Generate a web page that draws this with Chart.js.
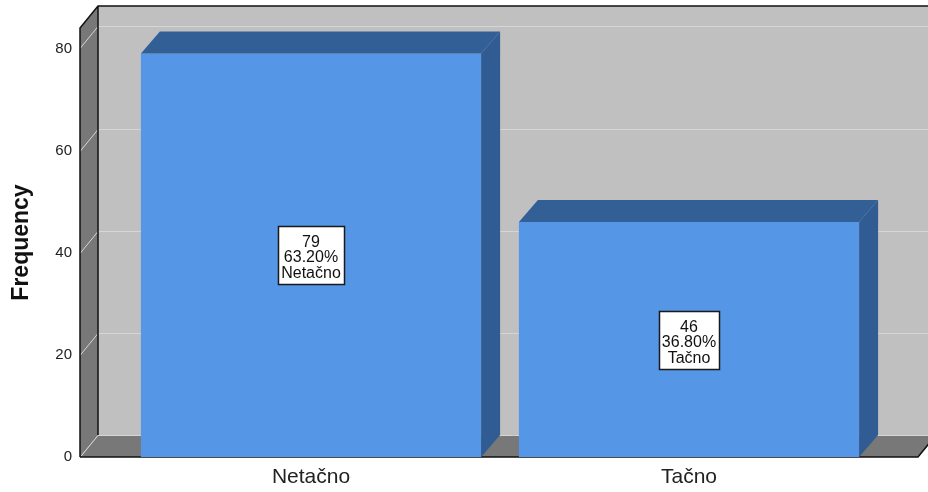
<!DOCTYPE html>
<html>
<head>
<meta charset="utf-8">
<title>Frequency</title>
<script src="https://cdn.jsdelivr.net/npm/chart.js@4/dist/chart.umd.min.js"></script>
<style>
  html, body { margin: 0; padding: 0; background: #ffffff; }
  #wrap { position: relative; width: 928px; height: 492px; }
</style>
</head>
<body>
<div id="wrap"><canvas id="chart"></canvas></div>
<script>
// Answer categories and how many respondents chose each
const categories = ['Netačno', 'Tačno'];
const frequencies = [79, 46];
// Value axis ticks
const yTicks = [0, 20, 40, 60, 80];
const yMax = 84;

const FONT = "Arial, 'Liberation Sans', sans-serif";
const total = frequencies.reduce((a, b) => a + b, 0);

// Oblique depth of the room (walls/floor) and of the bars
const ROOM_DX = 18, ROOM_DY = 22;
const BAR_DX = 19, BAR_DY = 22;

// Back wall, left wall, floor and gridlines behind the bars; 3D bar faces and labels on top
const roomPlugin = {
  id: 'room3d',
  beforeDatasetsDraw(chart) {
    const { ctx, chartArea: ca } = chart;
    const y = chart.scales.y;
    const L = ca.left - 42, R = ca.right + 40, T = ca.top, B = ca.bottom;
    ctx.save();
    // back wall
    ctx.fillStyle = '#c0c0c0';
    ctx.fillRect(L + ROOM_DX, T - ROOM_DY, (R - L) + 20, B - T);
    // left wall
    ctx.fillStyle = '#787878';
    ctx.beginPath();
    ctx.moveTo(L, B); ctx.lineTo(L, T);
    ctx.lineTo(L + ROOM_DX, T - ROOM_DY); ctx.lineTo(L + ROOM_DX, B - ROOM_DY);
    ctx.closePath(); ctx.fill();
    // floor
    ctx.beginPath();
    ctx.moveTo(L, B); ctx.lineTo(R, B);
    ctx.lineTo(R + ROOM_DX, B - ROOM_DY); ctx.lineTo(L + ROOM_DX, B - ROOM_DY);
    ctx.closePath(); ctx.fill();
    // gridlines on both walls
    ctx.strokeStyle = '#d6d6d6';
    ctx.lineWidth = 1;
    yTicks.forEach(v => {
      const py = Math.round(y.getPixelForValue(v)) + 0.5;
      ctx.beginPath();
      ctx.moveTo(L, py);
      ctx.lineTo(L + ROOM_DX, py - ROOM_DY);
      ctx.lineTo(R + ROOM_DX + 20, py - ROOM_DY);
      ctx.stroke();
    });
    // dark edges
    ctx.strokeStyle = '#111111';
    ctx.lineWidth = 1.5;
    ctx.beginPath();
    ctx.moveTo(L, B); ctx.lineTo(L, T);
    ctx.lineTo(L + ROOM_DX, T - ROOM_DY); ctx.lineTo(R + ROOM_DX + 20, T - ROOM_DY);
    ctx.moveTo(L + ROOM_DX, T - ROOM_DY); ctx.lineTo(L + ROOM_DX, B - ROOM_DY);
    ctx.moveTo(L, B); ctx.lineTo(R, B); ctx.lineTo(R + ROOM_DX, B - ROOM_DY);
    ctx.stroke();
    ctx.restore();
  },
  afterDatasetsDraw(chart) {
    const { ctx } = chart;
    const meta = chart.getDatasetMeta(0);
    ctx.save();
    meta.data.forEach((bar, i) => {
      const { x, y, base, width } = bar.getProps(['x', 'y', 'base', 'width'], true);
      const l = x - width / 2, r = x + width / 2;
      // top face
      ctx.fillStyle = '#335f97';
      ctx.beginPath();
      ctx.moveTo(l, y); ctx.lineTo(l + BAR_DX, y - BAR_DY);
      ctx.lineTo(r + BAR_DX, y - BAR_DY); ctx.lineTo(r, y);
      ctx.closePath(); ctx.fill();
      // side face
      ctx.fillStyle = '#305c93';
      ctx.beginPath();
      ctx.moveTo(r, y); ctx.lineTo(r + BAR_DX, y - BAR_DY);
      ctx.lineTo(r + BAR_DX, base - BAR_DY); ctx.lineTo(r, base);
      ctx.closePath(); ctx.fill();

      // value label box: count, percent, category
      const lines = [
        String(frequencies[i]),
        (frequencies[i] / total * 100).toFixed(2) + '%',
        categories[i]
      ];
      ctx.font = '16px ' + FONT;
      const w = Math.round(Math.max(...lines.map(s => ctx.measureText(s).width)) + 6);
      const lh = 15.5;
      const h = 58;
      const cy = (y + base) / 2;
      const bx = Math.round(x - w / 2) + 0.5, by = Math.round(cy - h / 2) + 0.5;
      ctx.fillStyle = '#ffffff';
      ctx.fillRect(bx, by, w, h);
      ctx.strokeStyle = '#1a1a1a';
      ctx.lineWidth = 1.5;
      ctx.strokeRect(bx, by, w, h);
      ctx.fillStyle = '#111111';
      ctx.textAlign = 'center';
      ctx.textBaseline = 'middle';
      lines.forEach((s, k) => {
        ctx.fillText(s, x, by + 16 + lh * k);
      });
    });
    ctx.restore();
  }
};

new Chart(document.getElementById('chart'), {
  type: 'bar',
  data: {
    labels: categories,
    datasets: [{
      label: 'Frequency',
      data: frequencies,
      backgroundColor: '#5596e6',
      borderWidth: 0,
      categoryPercentage: 1.0,
      barPercentage: 0.9
    }]
  },
  options: {
    responsive: true,
    maintainAspectRatio: false,
    devicePixelRatio: 1,
    animation: false,
    layout: { padding: { top: 28, right: 50, bottom: 0, left: 0 } },
    plugins: {
      legend: { display: false },
      tooltip: { enabled: false }
    },
    scales: {
      x: {
        type: 'category',
        offset: true,
        grid: { display: false, drawTicks: false },
        border: { display: false },
        ticks: { color: '#222222', font: { family: FONT, size: 21 }, padding: 8 },
        afterFit(scale) { scale.height = 35; }
      },
      y: {
        min: 0,
        max: yMax,
        grid: { display: false, drawTicks: false },
        border: { display: false },
        ticks: { stepSize: 20, color: '#222222', font: { family: FONT, size: 15 }, padding: 50 },
        afterBuildTicks(scale) { scale.ticks = yTicks.map(v => ({ value: v })); },
        afterFit(scale) {
          scale.width = 122;
          // labels sit far from the axis; keep them from reserving vertical room
          scale.paddingTop = 0;
          scale.paddingBottom = 0;
        },
        title: {
          display: true,
          text: 'Frequency',
          color: '#111111',
          font: { family: FONT, size: 23, weight: 'bold' },
          padding: { top: 8, bottom: 0 }
        }
      }
    }
  },
  plugins: [roomPlugin]
});
</script>
</body>
</html>
